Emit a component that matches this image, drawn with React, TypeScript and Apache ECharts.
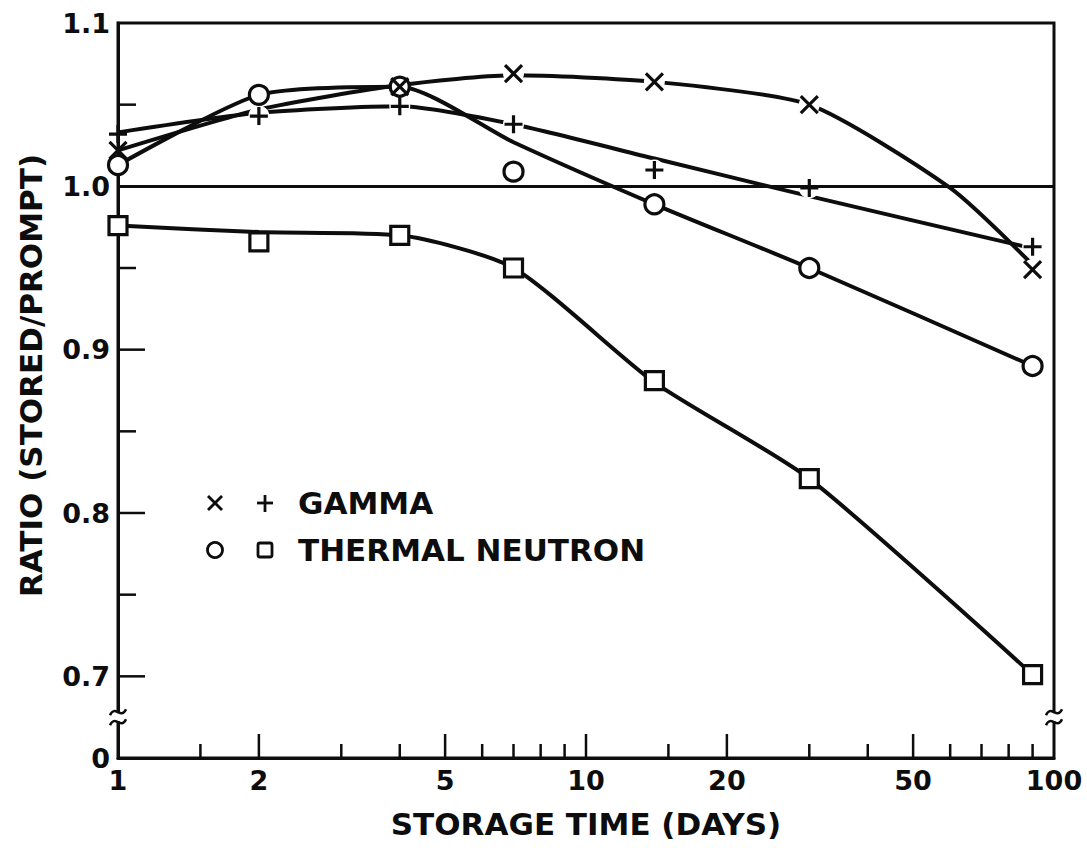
import React, { useEffect, useRef } from "react";
import * as echarts from "echarts";

// ---- data ----
const days = [1, 2, 4, 7, 14, 30, 90];
const gammaCross = [1.022, null, 1.061, 1.069, 1.064, 1.05, 0.949];
const gammaPlus = [1.032, 1.043, 1.049, 1.038, 1.01, 0.999, 0.963];
const neutronCircle = [1.013, 1.056, 1.061, 1.009, 0.989, 0.95, 0.89];
const neutronSquare = [0.976, 0.966, 0.97, 0.95, 0.881, 0.821, 0.701];

// hand-fitted curves as drawn in the figure: [day, ratio]
const gammaCrossCurve = [[1, 1.022], [2, 1.047], [4, 1.062], [7, 1.068], [14, 1.064], [30, 1.05], [60, 0.999], [90, 0.952]];
const gammaPlusCurve = [[1, 1.033], [2, 1.045], [4, 1.049], [7, 1.038], [14, 1.017], [30, 0.994], [90, 0.962]];
const neutronCircleCurve = [[1, 1.013], [2, 1.056], [4, 1.061], [7, 1.027], [14, 0.989], [30, 0.95], [90, 0.89]];
const neutronSquareCurve = [[1, 0.976], [2, 0.972], [4, 0.97], [7, 0.95], [14, 0.88], [30, 0.821], [90, 0.701]];

const xTickLabels = [1, 2, 5, 10, 20, 50, 100];
const xMajorTicks = [2, 5, 10, 20, 50];
const xMinorTicks = [1.5, 3, 4, 6, 7, 8, 9, 15, 30, 40, 60, 70, 80, 90];
const yMajorTicks = [0.7, 0.8, 0.9];
const yMinorTicks = [0.75, 0.85, 0.95, 1.05];
const yMin = 0.65; // shown as "0" (broken axis)
const yMax = 1.1;
const yStep = 0.05;
const yBreak = 0.675;
const referenceRatio = 1.0;

const INK = "#0d0d0d";
const FONT = '"DejaVu Sans", "Liberation Sans", Arial, sans-serif';

function pairs(vals: (number | null)[], skipFirst = false) {
  const out: number[][] = [];
  vals.forEach((v, i) => {
    if (v === null) return;
    if (skipFirst && i === 0) return;
    out.push([days[i], v]);
  });
  return out;
}

export default function App() {
  const ref = useRef<HTMLDivElement>(null);
  useEffect(() => {
    if (!ref.current) return;
    const chart = echarts.init(ref.current, undefined, { renderer: "svg" });

    const curveStyle = { color: INK, width: 4 };
    const curve = (data: number[][], extra: any = {}) => ({
      type: "line",
      data,
      smooth: 0.22,
      showSymbol: false,
      symbol: "none",
      silent: true,
      lineStyle: curveStyle,
      z: 2,
      ...extra,
    });

    const markerStyle = { color: "#fff", borderColor: INK, borderWidth: 3.2, opacity: 1 };
    const strokeMarker = { color: INK, borderColor: INK, borderWidth: 3.2, opacity: 1 };

    const option: any = {
      animation: false,
      backgroundColor: "#fff",
      grid: {
        left: 118,
        right: 33,
        top: 23,
        bottom: 90,
        show: true,
        borderColor: INK,
        borderWidth: 3,
        backgroundColor: "transparent",
      },
      xAxis: {
        type: "log",
        logBase: 10,
        min: 1,
        max: 100,
        name: "STORAGE TIME (DAYS)",
        nameLocation: "middle",
        nameGap: 50,
        nameTextStyle: { fontFamily: FONT, fontWeight: "bold", fontSize: 31, color: INK },
        axisLine: { show: true, lineStyle: { color: INK, width: 3 } },
        axisTick: { show: false },
        axisLabel: { show: false },
        splitLine: { show: false },
        minorTick: { show: false },
      },
      yAxis: {
        type: "value",
        min: yMin,
        max: yMax,
        interval: yStep,
        name: "RATIO (STORED/PROMPT)",
        nameLocation: "middle",
        nameGap: 72,
        nameTextStyle: { fontFamily: FONT, fontWeight: "bold", fontSize: 31, color: INK, padding: [0, 0, 0, 30] },
        axisLine: { show: true, lineStyle: { color: INK, width: 3 } },
        axisTick: { show: false },
        splitLine: { show: false },
        axisLabel: {
          margin: 8,
          fontFamily: FONT,
          fontWeight: "bold",
          fontSize: 27,
          color: INK,
          formatter: (v: number) => {
            const r = Math.round(v * 100);
            if (r === Math.round(yMin * 100)) return "0";
            if (r % 10 === 0) return (r / 100).toFixed(1);
            return "";
          },
        },
      },
      graphic: [
        // legend: gamma
        { type: "line", shape: { x1: 208, y1: 496, x2: 222, y2: 510 }, style: { stroke: INK, lineWidth: 2.8 } },
        { type: "line", shape: { x1: 222, y1: 496, x2: 208, y2: 510 }, style: { stroke: INK, lineWidth: 2.8 } },
        { type: "line", shape: { x1: 265, y1: 495, x2: 265, y2: 512 }, style: { stroke: INK, lineWidth: 2.8 } },
        { type: "line", shape: { x1: 257, y1: 503, x2: 273, y2: 503 }, style: { stroke: INK, lineWidth: 2.8 } },
        {
          type: "text",
          x: 298,
          y: 503,
          style: { text: "GAMMA", fontFamily: FONT, fontWeight: "bold", fontSize: 31, fill: INK, verticalAlign: "middle", align: "left" },
        },
        // legend: thermal neutron
        { type: "circle", shape: { cx: 215, cy: 550, r: 7.5 }, style: { fill: "#fff", stroke: INK, lineWidth: 2.8 } },
        { type: "rect", shape: { x: 258, y: 543, width: 14, height: 14, r: 2 }, style: { fill: "#fff", stroke: INK, lineWidth: 2.8 } },
        {
          type: "text",
          x: 298,
          y: 550,
          style: { text: "THERMAL NEUTRON", fontFamily: FONT, fontWeight: "bold", fontSize: 31, fill: INK, verticalAlign: "middle", align: "left" },
        },
      ],
      series: [
        curve(gammaCrossCurve, {
          markLine: {
            silent: true,
            symbol: "none",
            label: { show: false },
            lineStyle: { color: INK, width: 3, type: "solid", opacity: 1 },
            data: [{ yAxis: referenceRatio }],
          },
        }),
        curve(gammaPlusCurve),
        curve(neutronCircleCurve),
        curve(neutronSquareCurve),
        // white halos that break the curves around the open markers
        {
          type: "scatter",
          silent: true,
          symbol: "circle",
          symbolSize: 21,
          itemStyle: { color: "#fff", opacity: 1 },
          data: [...pairs(gammaCross, true), ...pairs(gammaPlus, true)],
          z: 3,
        },
        {
          type: "scatter",
          silent: true,
          symbol: "circle",
          symbolSize: 19,
          itemStyle: markerStyle,
          data: pairs(neutronCircle),
          z: 4,
        },
        {
          type: "scatter",
          silent: true,
          symbol: "rect",
          symbolSize: 18,
          itemStyle: markerStyle,
          data: pairs(neutronSquare),
          z: 4,
        },
        {
          type: "scatter",
          silent: true,
          symbol: "path://M0,0L20,20M20,0L0,20",
          symbolSize: 17,
          itemStyle: strokeMarker,
          data: pairs(gammaCross),
          z: 5,
        },
        {
          type: "scatter",
          silent: true,
          symbol: "path://M10,0L10,20M0,10L20,10",
          symbolSize: 18,
          itemStyle: strokeMarker,
          data: pairs(gammaPlus),
          z: 5,
        },
        // y-axis ticks (inward)
        {
          type: "custom",
          silent: true,
          clip: false,
          z: 6,
          data: [...yMajorTicks.map((v) => [1, v, 1]), ...yMinorTicks.map((v) => [1, v, 0])],
          renderItem: (_p: any, api: any) => {
            const p = api.coord([api.value(0), api.value(1)]);
            const len = api.value(2) ? 27 : 18;
            return {
              type: "line",
              shape: { x1: p[0], y1: p[1], x2: p[0] + len, y2: p[1] },
              style: { stroke: INK, lineWidth: 2.5 },
            };
          },
        },
        // x-axis ticks (inward)
        {
          type: "custom",
          silent: true,
          clip: false,
          z: 6,
          data: [...xMajorTicks.map((v) => [v, yMin, 1]), ...xMinorTicks.map((v) => [v, yMin, 0])],
          renderItem: (_p: any, api: any) => {
            const p = api.coord([api.value(0), api.value(1)]);
            const len = api.value(2) ? 24 : 14;
            return {
              type: "line",
              shape: { x1: p[0], y1: p[1], x2: p[0], y2: p[1] - len },
              style: { stroke: INK, lineWidth: 2.5 },
            };
          },
        },
        // x-axis tick labels
        {
          type: "custom",
          silent: true,
          clip: false,
          z: 6,
          data: xTickLabels.map((v) => [v, yMin]),
          renderItem: (_p: any, api: any) => {
            const p = api.coord([api.value(0), api.value(1)]);
            return {
              type: "text",
              x: p[0],
              y: p[1] + 22,
              style: {
                text: String(api.value(0)),
                fontFamily: FONT,
                fontWeight: "bold",
                fontSize: 27,
                fill: INK,
                align: "center",
                verticalAlign: "middle",
              },
            };
          },
        },
        // axis break marks
        {
          type: "custom",
          silent: true,
          clip: false,
          z: 7,
          data: [[1, yBreak], [100, yBreak]],
          renderItem: (_p: any, api: any) => {
            const p = api.coord([api.value(0), api.value(1)]);
            const x = p[0];
            const y = p[1];
            const tilde = (c: number) => ({
              type: "bezierCurve",
              shape: { x1: x - 8, y1: c + 3, cpx1: x - 3, cpy1: c - 8, cpx2: x + 3, cpy2: c + 8, x2: x + 8, y2: c - 3 },
              style: { stroke: INK, fill: null, lineWidth: 2.5 },
            });
            return {
              type: "group",
              children: [
                { type: "rect", shape: { x: x - 4, y: y - 4, width: 8, height: 8 }, style: { fill: "#fff" } },
                tilde(y - 5),
                tilde(y + 5),
              ],
            };
          },
        },
      ],
    };

    chart.setOption(option);
    return () => chart.dispose();
  }, []);

  return (
    <div
      ref={ref}
      style={{ position: "absolute", left: 0, top: 0, width: 1087, height: 848, background: "#fff" }}
    />
  );
}
